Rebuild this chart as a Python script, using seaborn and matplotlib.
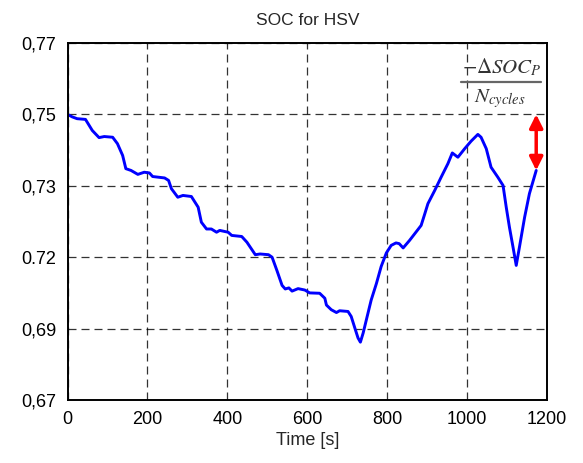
import numpy as np
import pandas as pd
import matplotlib
matplotlib.use("Agg")
import matplotlib.pyplot as plt
import seaborn as sns

time_s = [0, 12, 24, 45, 62, 79, 92, 113, 125, 138, 146, 159, 176, 192, 205, 213,
          243, 253, 260, 276, 289, 310, 327, 335, 348, 360, 373, 381, 402, 411, 436,
          449, 470, 482, 503, 512, 524, 537, 545, 554, 562, 577, 594, 606, 631, 644,
          648, 660, 673, 681, 702, 710, 719, 727, 733, 740, 748, 760, 773, 785, 798,
          810, 822, 830, 840, 856, 885, 894, 902, 919, 935, 952, 963, 977, 994, 1010,
          1027, 1035, 1048, 1060, 1077, 1090, 1098, 1106, 1115, 1123, 1131, 1144,
          1156, 1173]
soc = [0.7500, 0.7493, 0.7488, 0.7486, 0.7455, 0.7435, 0.7438, 0.7436, 0.7418, 0.7385,
       0.7348, 0.7343, 0.7332, 0.7338, 0.7336, 0.7326, 0.7322, 0.7315, 0.7292, 0.7268,
       0.7273, 0.7270, 0.7240, 0.7198, 0.7179, 0.7179, 0.7170, 0.7175, 0.7170, 0.7161,
       0.7158, 0.7142, 0.7107, 0.7109, 0.7107, 0.7100, 0.7063, 0.7021, 0.7011, 0.7014,
       0.7005, 0.7012, 0.7008, 0.7000, 0.6999, 0.6985, 0.6966, 0.6953, 0.6945, 0.6950,
       0.6948, 0.6934, 0.6902, 0.6874, 0.6862, 0.6888, 0.6925, 0.6980, 0.7026, 0.7074,
       0.7112, 0.7133, 0.7140, 0.7138, 0.7126, 0.7147, 0.7189, 0.7221, 0.7250, 0.7287,
       0.7324, 0.7362, 0.7392, 0.7380, 0.7404, 0.7425, 0.7444, 0.7436, 0.7404, 0.7352,
       0.7324, 0.7301, 0.7240, 0.7184, 0.7128, 0.7077, 0.7128, 0.7212, 0.7278, 0.7343]

x_ticks = [0, 200, 400, 600, 800, 1000, 1200]
y_ticks = [0.67, 0.69, 0.71, 0.73, 0.75, 0.77]
y_tick_labels = ["0,67", "0,69", "0.72", "0,73", "0,75", "0,77"]
arrow_top = 0.75

df = pd.DataFrame({"Time [s]": time_s, "SOC": soc})

sns.set_style("white")
plt.rcParams["font.family"] = ["Liberation Sans", "DejaVu Sans"]
plt.rcParams["mathtext.fontset"] = "stix"

fig = plt.figure(figsize=(5.83, 4.63), dpi=100)
ax = fig.add_axes([67.5 / 583, 1 - 400 / 463, (547 - 67.5) / 583, (400 - 43) / 463])

sns.lineplot(data=df, x="Time [s]", y="SOC", ax=ax, color="#0000FF", linewidth=2.1)

ax.set_xlim(0, 1200)
ax.set_ylim(0.67, 0.77)
ax.set_xticks(x_ticks)
ax.set_xticklabels([str(t) for t in x_ticks])
ax.set_yticks(y_ticks)
ax.set_yticklabels(y_tick_labels)
ax.tick_params(axis="both", length=0, labelsize=13, colors="black", pad=8)
ax.grid(True, color="black", linestyle=(0, (6.4, 4)), linewidth=0.9, alpha=0.8)
for s in ax.spines.values():
    s.set_color("black")
    s.set_linewidth(1.4)
    s.set_visible(True)

ax.set_xlabel("Time [s]", fontsize=13, labelpad=3)
ax.set_ylabel("")
ax.set_title("SOC for HSV", fontsize=12.5, pad=13)

ax.annotate("", xy=(time_s[-1], soc[-1]), xytext=(time_s[-1], arrow_top),
            arrowprops=dict(arrowstyle="<|-|>,head_length=0.8,head_width=0.4",
                            color="#FF0000", lw=2.5, shrinkA=0, shrinkB=0))

# fraction annotation: -ΔSOC_P / N_cycles
ax.text(1086, 0.7633, r"$-\Delta SOC_P$", fontsize=15,
        ha="center", va="center", color="#333333")
ax.plot([986, 1184], [0.7591, 0.7591], color="#666666", lw=1.6)
ax.text(1082, 0.7545, r"$N_{cycles}$", fontsize=15,
        ha="center", va="center", color="#333333")

fig.savefig("out.png", dpi=100)
